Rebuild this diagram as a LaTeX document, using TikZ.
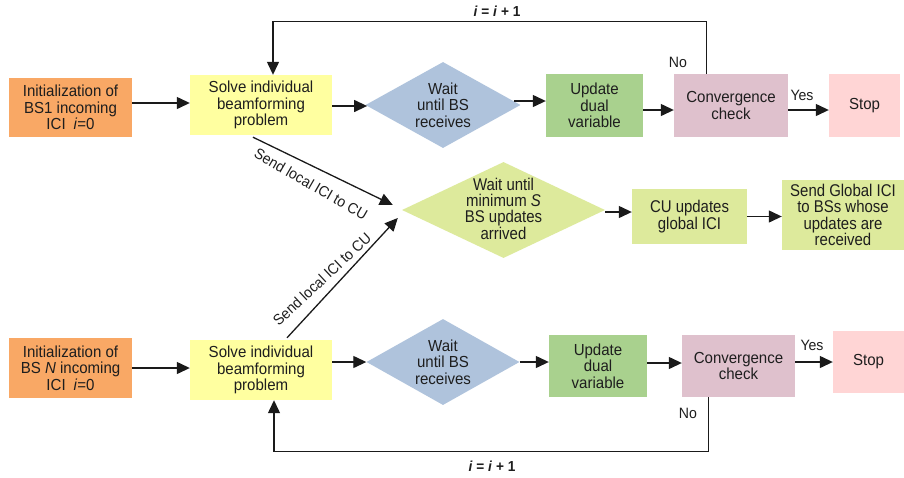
\documentclass[tikz,border=0pt]{standalone}
\usepackage{fontspec}
\setmainfont{Liberation Sans}[FakeStretch=0.94]
\newfontfamily\narrowf{Liberation Sans}[FakeStretch=0.88]
\usetikzlibrary{shapes.geometric,arrows.meta,calc}
\definecolor{cOr}{HTML}{F9A865}
\definecolor{cYe}{HTML}{FFFFA0}
\definecolor{cBl}{HTML}{AFC3DC}
\definecolor{cGr}{HTML}{A9D18E}
\definecolor{cPk}{HTML}{DFC1CD}
\definecolor{cSt}{HTML}{FFD5D5}
\definecolor{cLi}{HTML}{DDEA9C}
\definecolor{txt}{HTML}{1E1E1E}
\definecolor{ln}{HTML}{1A1A1A}
\begin{document}
\begin{tikzpicture}[x=1pt,y=-1pt,
  box/.style={rectangle, inner sep=0pt, align=center, text=txt, font=\fontsize{16}{16.5}\selectfont},
  cubox/.style={rectangle, inner sep=0pt, align=center, text=txt, font=\narrowf\fontsize{17}{16.2}\selectfont},
  dia/.style={diamond, inner sep=0pt},
  dtext/.style={inner sep=0pt, align=center, text=txt, font=\fontsize{16}{16.5}\selectfont},
  cutext/.style={inner sep=0pt, align=center, text=txt, font=\narrowf\fontsize{17}{15.7}\selectfont},
  lbl/.style={inner sep=0pt, text=txt, font=\fontsize{15}{16}\selectfont},
  ilbl/.style={inner sep=0pt, text=txt, font=\bfseries\fontsize{14.5}{16}\selectfont},
  arr/.style={draw=ln, line width=1.3pt, -{Triangle[length=13pt,width=12pt]}}
]
\fill[white] (0,0) rectangle (904,477);
\useasboundingbox (0,0) rectangle (904,477);

% top row
\node[box, fill=cOr, minimum width=123pt, minimum height=59pt] (init1) at (70.5,107.5) {Initialization of\\BS1 incoming\\ICI\enspace\textit{i}=0};
\node[box, fill=cYe, minimum width=142pt, minimum height=60pt] (solve1) at (261,105) {Solve individual\\beamforming\\problem};
\node[dia, fill=cBl, minimum width=155pt, minimum height=86pt] (dia1) at (443,105) {};
\node[dtext] (dia1t) at (dia1.center) {Wait\\until BS\\receives};
\node[box, fill=cGr, minimum width=97pt, minimum height=63pt] (upd1) at (594.5,105.5) {Update\\dual\\variable};
\node[box, fill=cPk, minimum width=114pt, minimum height=63pt] (conv1) at (731,105.5) {Convergence\\check};
\node[box, fill=cSt, minimum width=71pt, minimum height=63pt] (stop1) at (864.5,105.5) {Stop};

% middle row
\node[dia, fill=cLi, minimum width=203pt, minimum height=96pt] (cud) at (503.5,210) {};
\node[cutext] (cudt) at ($(cud.center)+(0,-1)$) {Wait until\\minimum \textit{S}\\BS updates\\arrived};
\node[cubox, fill=cLi, minimum width=115pt, minimum height=55pt] (cu) at (689.5,216.5) {CU updates\\global ICI};
\node[cubox, fill=cLi, minimum width=122pt, minimum height=70pt] (sg) at (843,215) {Send Global ICI\\to BSs whose\\updates are\\received};

% bottom row
\node[box, fill=cOr, minimum width=123pt, minimum height=60pt] (init2) at (70.5,368) {Initialization of\\BS \textit{N} incoming\\ICI\enspace\textit{i}=0};
\node[box, fill=cYe, minimum width=142pt, minimum height=60pt] (solve2) at (261,370) {Solve individual\\beamforming\\problem};
\node[dia, fill=cBl, minimum width=153pt, minimum height=86pt] (dia2) at (443,362) {};
\node[dtext] (dia2t) at (dia2.center) {Wait\\until BS\\receives};
\node[box, fill=cGr, minimum width=98pt, minimum height=62pt] (upd2) at (598,366) {Update\\dual\\variable};
\node[box, fill=cPk, minimum width=113pt, minimum height=62pt] (conv2) at (738.5,366) {Convergence\\check};
\node[box, fill=cSt, minimum width=71pt, minimum height=62pt] (stop2) at (868.5,362) {Stop};

% top arrows
\draw[arr] ($(init1.east)+(0,-4.5)$) -- ($(solve1.west)+(0,-2)$);
\draw[arr] ($(solve1.east)+(0,1)$) -- ($(dia1.west)+(1.8,1)$);
\draw[arr] ($(dia1.east)+(-7.2,-4)$) -- ($(upd1.west)+(0,-4.5)$);
\draw[arr] ($(upd1.east)+(0,4.5)$) -- ($(conv1.west)+(0,4.5)$);
\draw[arr] ($(conv1.east)+(0,4.5)$) -- ($(stop1.west)+(0,4.5)$);
\draw[arr] ($(conv1.north west)+(33,0)$) |- ($(solve1.north)+(12,-53)$) -- ($(solve1.north)+(12,0)$);
\node[lbl] (yes1) at (802,95) {Yes};
\node[lbl] (no1) at (678,62) {No};
\node[ilbl] (it1) at (497,11) {\textit{i} = \textit{i} + 1};

% middle arrows
\draw[arr] ($(cud.east)+(0,2)$) -- ($(cu.west)+(0,-4.5)$);
\draw[arr] (cu.east) -- (cu.east -| sg.west);
\draw[arr] ($(solve1.south)+(-8,2)$) -- ($(cud.west)+(-9,-5)$);
\draw[arr] ($(solve2.north)+(26,-2)$) -- ($(cud.west)+(-4,8)$);
\node[lbl, rotate=-30] (sl1) at (311,184) {Send local ICI to CU};
\node[lbl, rotate=43] (sl2) at (322,279) {Send local ICI to CU};

% bottom arrows
\draw[arr] (init2.east) -- (init2.east -| solve2.west);
\draw[arr] (solve2.east |- dia2.west) -- (dia2.west);
\draw[arr] (dia2.east) -- (dia2.east -| upd2.west);
\draw[arr] ($(upd2.east)+(0,-3)$) -- ($(conv2.west)+(0,-3)$);
\draw[arr] (conv2.east |- stop2.west) -- (stop2.west);
\draw[arr] ($(conv2.south west)+(27,0)$) |- ($(solve2.south)+(13,51)$) -- ($(solve2.south)+(13,0)$);
\node[lbl] (yes2) at (812,345) {Yes};
\node[lbl] (no2) at (688,413) {No};
\node[ilbl] (it2) at (492,466) {\textit{i} = \textit{i} + 1};
\end{tikzpicture}
\end{document}
